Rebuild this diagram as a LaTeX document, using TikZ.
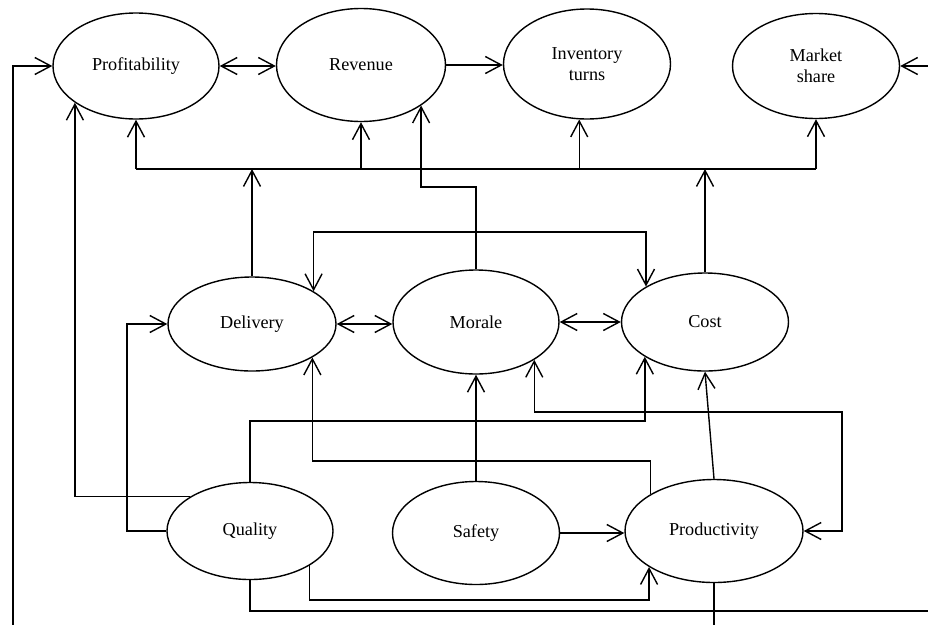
\documentclass[tikz,border=0pt]{standalone}
\usepackage{fontspec}
\setmainfont{Liberation Serif}
\usetikzlibrary{shapes.geometric,arrows.meta}

\begin{document}
\begin{tikzpicture}[x=1pt,y=-1pt,
  every node/.style={font=\fontsize{18.2}{21}\selectfont},
  factor/.style={ellipse,draw,line width=1.4pt,inner sep=0pt,align=center},
  link/.style={line width=1.4pt},
  tip/.tip={Straight Barb[length=16pt,width=17pt]},
  arr/.style={link,-tip},
  arrboth/.style={link,tip-tip}]

\useasboundingbox (0,0) rectangle (928,624);
\clip (0,0) rectangle (928,624);

% factors
\node[factor,minimum width=166pt,minimum height=106pt] (prof) at (136,66) {Profitability};
\node[factor,minimum width=169pt,minimum height=113pt] (rev)  at (361,65) {Revenue};
\node[factor,minimum width=167pt,minimum height=110pt] (inv)  at (587,64) {Inventory\\turns};
\node[factor,minimum width=167pt,minimum height=105pt] (mkt)  at (816,66) {Market\\share};
\node[factor,minimum width=168pt,minimum height=94pt]  (del)  at (252,324) {Delivery};
\node[factor,minimum width=166pt,minimum height=104pt] (mor)  at (476,322) {Morale};
\node[factor,minimum width=167pt,minimum height=98pt]  (cost) at (705,322) {Cost};
\node[factor,minimum width=166pt,minimum height=97pt]  (qual) at (250,531) {Quality};
\node[factor,minimum width=167pt,minimum height=103pt] (saf)  at (476,533) {Safety};
\node[factor,minimum width=178pt,minimum height=103pt] (prod) at (714,531) {Productivity};

% routing levels and columns
\coordinate (bus)   at (0,169);
\coordinate (lvlA)  at (0,187);
\coordinate (lvlB)  at (0,232);
\coordinate (lvlC)  at (0,421);
\coordinate (lvlD)  at (0,461);
\coordinate (colR)  at (842,412);
\coordinate (lvlF)  at (0,600);
\coordinate (lvlG)  at (0,611);
\coordinate (lvlH)  at (0,660);
\coordinate (colQ)  at (127,0);
\coordinate (colL)  at (13,0);
\coordinate (colFR) at (960,0);

% top row links
\draw[arrboth] (prof.east) -- (prof.east -| rev.west);
\draw[arr] (rev.east) -- (rev.east -| inv.west);

% shared bus feeding the top row
\draw[link] (bus -| prof.south) -- (bus -| mkt.south);
\draw[arr] (bus -| prof.south) -- (prof.south);
\draw[arr] (bus -| rev.south) -- (rev.south);
\draw[arr] (bus -| inv.262) -- (inv.262);
\draw[arr] (bus -| mkt.south) -- (mkt.south);
\draw[arr] (del.north) -- (del.north |- bus);
\draw[arr] (cost.north) -- (cost.north |- bus);

% morale to revenue
\draw[arr] (mor.north) -- (mor.north |- lvlA) -| (rev.326.4);

% delivery <-> cost over the top
\draw[arrboth] (del.28.7) -- (del.28.7 |- lvlB) -- (cost.149.6 |- lvlB) -- (cost.149.6);

% middle row links
\draw[arrboth] (del.east) -- (del.east -| mor.west);
\draw[arrboth] (mor.east) -- (mor.east -| cost.west);

% quality links
\draw[arr] (qual.150.8) -| (prof.211.4);
\draw[arr] (qual.west) -- (qual.west -| colQ) |- (del.west);
\draw[arr] (qual.north) -- (qual.north |- lvlC) -| (cost.210.4);
\draw[arr] (qual.330) -- (qual.330 |- lvlF) -| (prod.209.2);
\draw[arr] (qual.south) -- (qual.south |- lvlG) -- (colFR |- lvlG) -- (colFR |- mkt.east) -- (mkt.east);

% productivity links
\draw[arr] (prod.150) -- (prod.150 |- lvlD) -| (del.331.3);
\draw[arr] (prod.north) -- (cost.south);
\draw[arr] (prod.south) -- (prod.south |- lvlH) -- (colL |- lvlH) -- (colL |- prof.west) -- (prof.west);

% safety links
\draw[arr] (saf.north) -- (mor.south);
\draw[arr] (saf.east) -- (saf.east -| prod.west);

% morale <-> productivity
\draw[arrboth] (mor.327.3) |- (colR) |- (prod.east);

\end{tikzpicture}
\end{document}
